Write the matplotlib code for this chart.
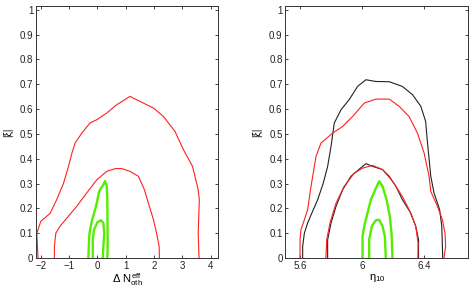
#!/usr/bin/env python3

import matplotlib
matplotlib.use('Agg')
import matplotlib.pyplot as plt

plt.rcParams['font.family'] = ['Liberation Sans', 'DejaVu Sans']
plt.rcParams['font.size'] = 7
plt.rcParams['mathtext.fontset'] = 'custom'
plt.rcParams['mathtext.rm'] = 'Liberation Sans'
plt.rcParams['mathtext.it'] = 'Liberation Sans'

RED = '#ff2020'
GREEN = '#55ee00'
BLACK = '#222222'

# left panel: Delta N_oth^eff vs |xi|
dn_red_outer_x = [-2.1, -2.14, -2.0, -1.67, -1.44, -1.2, -1.02, -0.9, -0.79, -0.55, -0.26, -0.02,
                  0.33, 0.68, 1.15, 1.5, 1.98, 2.33, 2.74, 3.04, 3.36, 3.56, 3.6, 3.58, 3.56, 3.59]
dn_red_outer_y = [0.0, 0.1, 0.148, 0.18, 0.235, 0.3, 0.37, 0.423, 0.463, 0.503, 0.544, 0.557,
                  0.584, 0.617, 0.651, 0.631, 0.604, 0.57, 0.51, 0.436, 0.369, 0.275, 0.235, 0.168, 0.1, 0.0]
dn_red_inner_x = [-1.52, -1.52, -1.47, -1.32, -1.08, -0.73, -0.38, -0.02, 0.33, 0.63, 0.86,
                  1.15, 1.45, 1.66, 1.8, 1.98, 2.09, 2.18, 2.19]
dn_red_inner_y = [0.0, 0.047, 0.1, 0.128, 0.161, 0.208, 0.262, 0.315, 0.349, 0.36, 0.36,
                  0.349, 0.329, 0.275, 0.221, 0.154, 0.1, 0.047, 0.0]
dn_green_outer_x = [-0.32, -0.3, -0.28, -0.2, -0.05, 0.05, 0.09, 0.21, 0.27, 0.33, 0.35, 0.36, 0.36, 0.35]
dn_green_outer_y = [0.0, 0.06, 0.1, 0.148, 0.208, 0.262, 0.275, 0.295, 0.31, 0.29, 0.235, 0.1, 0.04, 0.0]
dn_green_inner_x = [-0.165, -0.165, -0.12, 0.0, 0.12, 0.21, 0.24, 0.21, 0.19]
dn_green_inner_y = [0.0, 0.074, 0.114, 0.144, 0.152, 0.141, 0.1, 0.047, 0.0]

# right panel: eta_10 vs |xi|
eta_black_outer_x = [5.617, 5.617, 5.628, 5.649, 5.681, 5.714, 5.75, 5.778, 5.8, 5.821, 5.864,
                     5.917, 5.971, 6.025, 6.089, 6.175, 6.26, 6.325, 6.379, 6.41, 6.42, 6.443,
                     6.464, 6.5, 6.514, 6.518, 6.52]
eta_black_outer_y = [0.0, 0.047, 0.1, 0.141, 0.188, 0.235, 0.302, 0.369, 0.45, 0.544, 0.597,
                     0.638, 0.691, 0.718, 0.711, 0.71, 0.691, 0.658, 0.611, 0.55, 0.477, 0.329,
                     0.262, 0.195, 0.128, 0.047, 0.0]
eta_red_outer_x = [5.6, 5.6, 5.606, 5.628, 5.649, 5.671, 5.703, 5.735, 5.81, 5.875, 5.939, 6.014,
                   6.089, 6.175, 6.239, 6.303, 6.357, 6.4, 6.432, 6.443, 6.486, 6.518, 6.535, 6.539, 6.528]
eta_red_outer_y = [0.0, 0.074, 0.114, 0.154, 0.195, 0.289, 0.409, 0.463, 0.503, 0.53, 0.57, 0.624,
                   0.64, 0.64, 0.611, 0.57, 0.503, 0.423, 0.329, 0.268, 0.208, 0.154, 0.1, 0.047, 0.0]
eta_black_inner_x = [5.778, 5.778, 5.8, 5.832, 5.875, 5.928, 5.982, 6.025, 6.068, 6.132, 6.175,
                     6.218, 6.26, 6.314, 6.346, 6.364, 6.364]
eta_black_inner_y = [0.0, 0.074, 0.141, 0.208, 0.275, 0.329, 0.358, 0.38, 0.369, 0.356, 0.329,
                     0.289, 0.235, 0.181, 0.128, 0.074, 0.0]
eta_red_inner_x = [5.767, 5.772, 5.793, 5.832, 5.885, 5.95, 6.003, 6.068, 6.132, 6.196, 6.26,
                   6.303, 6.346, 6.361, 6.36]
eta_red_inner_y = [0.0, 0.074, 0.141, 0.221, 0.289, 0.342, 0.362, 0.373, 0.356, 0.309, 0.248,
                   0.195, 0.128, 0.06, 0.0]
eta_green_outer_x = [6.003, 6.003, 6.014, 6.035, 6.057, 6.085, 6.11, 6.132, 6.158, 6.179, 6.19, 6.196]
eta_green_outer_y = [0.0, 0.087, 0.128, 0.181, 0.235, 0.275, 0.309, 0.289, 0.235, 0.168, 0.1, 0.0]
eta_green_inner_x = [6.046, 6.046, 6.063, 6.089, 6.11, 6.132, 6.147, 6.153]
eta_green_inner_y = [0.0, 0.074, 0.128, 0.152, 0.154, 0.128, 0.087, 0.0]

y_ticks = [0, 0.1, 0.2, 0.3, 0.4, 0.5, 0.6, 0.7, 0.8, 0.9, 1]
y_ticklabels = ['0', '0.1', '0.2', '0.3', '0.4', '0.5', '0.6', '0.7', '0.8', '0.9', '1']
dn_ticks = [-2, -1, 0, 1, 2, 3, 4]
dn_ticklabels = ['\u22122', '\u22121', '0', '1', '2', '3', '4']
eta_ticks = [5.6, 6.0, 6.4]
eta_ticklabels = ['5.6', '6', '6.4']

fig = plt.figure(figsize=(4.72, 2.91), dpi=100)
ax1 = fig.add_axes([36 / 472, 33 / 291, 182 / 472, 252 / 291])
ax2 = fig.add_axes([285.3 / 472, 33 / 291, 183 / 472, 252 / 291])


def style(ax):
    ax.tick_params(direction='in', top=True, right=True, length=2.5, width=0.6,
                   labelsize=7, pad=2, colors='#222222')
    for s in ax.spines.values():
        s.set_linewidth(0.7)
        s.set_color('#333333')
    ax.set_ylim(0, 1.015)
    ax.set_yticks(y_ticks)
    ax.set_yticklabels(y_ticklabels)
    ax.set_ylabel('|\u03be|', fontsize=7, labelpad=5)


ax1.plot(dn_red_outer_x, dn_red_outer_y, color=RED, lw=0.8)
ax1.plot(dn_red_inner_x, dn_red_inner_y, color=RED, lw=0.8)
ax1.plot(dn_green_outer_x, dn_green_outer_y, color=GREEN, lw=1.7)
ax1.plot(dn_green_inner_x, dn_green_inner_y, color=GREEN, lw=1.7)
style(ax1)
ax1.set_xlim(-2.17, 4.26)
ax1.set_xticks(dn_ticks)
ax1.set_xticklabels(dn_ticklabels)
ax1.set_xlabel(r'$\Delta\ N^{eff}_{oth}$', fontsize=8, labelpad=0)

ax2.plot(eta_black_outer_x, eta_black_outer_y, color=BLACK, lw=0.8)
ax2.plot(eta_red_outer_x, eta_red_outer_y, color=RED, lw=0.8)
ax2.plot(eta_black_inner_x, eta_black_inner_y, color=BLACK, lw=0.8)
ax2.plot(eta_red_inner_x, eta_red_inner_y, color=RED, lw=0.8)
ax2.plot(eta_green_outer_x, eta_green_outer_y, color=GREEN, lw=1.7)
ax2.plot(eta_green_inner_x, eta_green_inner_y, color=GREEN, lw=1.7)
style(ax2)
ax2.set_xlim(5.505, 6.685)
ax2.set_xticks(eta_ticks)
ax2.set_xticklabels(eta_ticklabels)
ax2.set_xlabel(r'$\eta_{10}$', fontsize=8, labelpad=1)

fig.savefig('out.png', dpi=100)
